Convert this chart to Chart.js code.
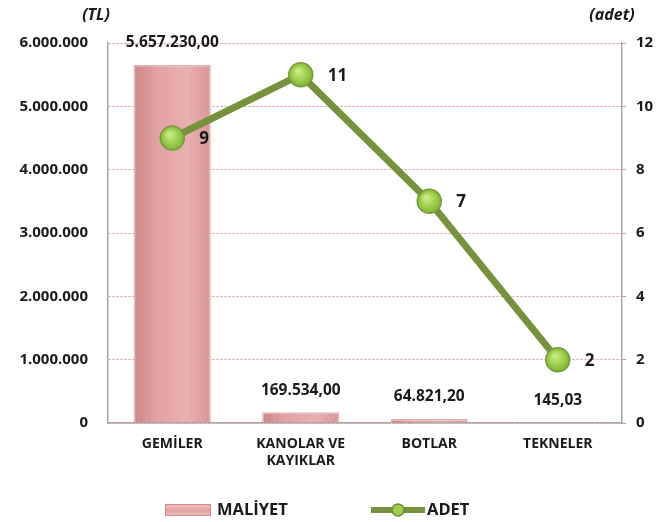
<!DOCTYPE html>
<html>
<head>
<meta charset="utf-8">
<script src="https://cdn.jsdelivr.net/npm/chart.js@4/dist/chart.umd.min.js"></script>
<style>
  html, body { margin: 0; padding: 0; background: #fff; }
  #wrap { width: 663px; height: 522px; position: relative; }
</style>
</head>
<body>
<div id="wrap"><canvas id="chart" width="663" height="522"></canvas></div>
<script>
// veriler
const categories = [['GEMİLER'], ['KANOLAR VE', 'KAYIKLAR'], ['BOTLAR'], ['TEKNELER']];
const maliyet = [5657230.00, 169534.00, 64821.20, 145.03];
const adet = [9, 11, 7, 2];
const leftTicks = [0, 1000000, 2000000, 3000000, 4000000, 5000000, 6000000];
const rightTicks = [0, 2, 4, 6, 8, 10, 12];

const FONT = "'Open Sans', sans-serif";
const TEXT = '#1a1a1a';

// Türkçe sayı biçimi: 1.234.567,89
function trNumber(v, dec) {
    const parts = v.toFixed(dec).split('.');
    const intPart = parts[0].replace(/\B(?=(\d{3})+(?!\d))/g, '.');
    return dec > 0 ? intPart + ',' + parts[1] : intPart;
}

// etiketler ve özel açıklama
const labelPlugin = {
    id: 'labelPlugin',
    afterDatasetsDraw(chart) {
        const ctx = chart.ctx;
        ctx.save();
        ctx.font = "bold 15.5px " + FONT;
        ctx.fillStyle = TEXT;

        // bar değerleri
        const barMeta = chart.getDatasetMeta(0);
        ctx.textAlign = 'center';
        ctx.textBaseline = 'middle';
        barMeta.data.forEach((bar, i) => {
            ctx.fillText(trNumber(maliyet[i], 2), bar.x, bar.y - 22);
        });

        // çizgi değerleri
        const lineMeta = chart.getDatasetMeta(1);
        ctx.font = "bold 17px " + FONT;
        ctx.textAlign = 'left';
        lineMeta.data.forEach((pt, i) => {
            ctx.fillText(String(adet[i]), pt.x + 27, pt.y + 1);
        });

        // eksen başlıkları
        ctx.font = "italic bold 16px " + FONT;
        ctx.textAlign = 'center';
        ctx.fillText('(TL)', 96, 15);
        ctx.fillText('(adet)', 612, 15);

        // açıklama
        const ly = 510;
        const g = ctx.createLinearGradient(0, ly - 6, 0, ly + 6);
        g.addColorStop(0, '#f2c4c4');
        g.addColorStop(0.5, '#e3a3a3');
        g.addColorStop(1, '#f0c0c0');
        ctx.fillStyle = g;
        ctx.fillRect(165, ly - 6, 46, 12);
        ctx.strokeStyle = '#cf8a8a';
        ctx.lineWidth = 1;
        ctx.strokeRect(165.5, ly - 5.5, 45, 11);
        ctx.fillStyle = TEXT;
        ctx.font = "bold 16.5px " + FONT;
        ctx.textAlign = 'left';
        ctx.fillText('MALİYET', 217, ly);

        ctx.strokeStyle = '#76923c';
        ctx.lineWidth = 6;
        ctx.beginPath();
        ctx.moveTo(371, ly);
        ctx.lineTo(425, ly);
        ctx.stroke();
        ctx.beginPath();
        ctx.arc(398, ly, 6, 0, Math.PI * 2);
        ctx.fillStyle = '#9bcf4a';
        ctx.fill();
        ctx.lineWidth = 1.5;
        ctx.strokeStyle = '#6a8a30';
        ctx.stroke();
        ctx.fillStyle = TEXT;
        ctx.fillText('ADET', 427, ly);
        ctx.restore();
    }
};

// bar dolgusu: yatay gradyan
function barFill(context) {
    const chart = context.chart;
    const xs = chart.scales.x;
    if (!xs || !xs.width || context.dataIndex === undefined) return '#e0a0a0';
    const cx = xs.getPixelForValue(context.dataIndex);
    const w = (xs.width / categories.length) * 0.6;
    if (!isFinite(cx) || !isFinite(w)) return '#e0a0a0';
    const g = chart.ctx.createLinearGradient(cx - w / 2, 0, cx + w / 2, 0);
    g.addColorStop(0, '#cf8588');
    g.addColorStop(0.3, '#e2a2a3');
    g.addColorStop(0.7, '#e8b0b0');
    g.addColorStop(1, '#d99597');
    return g;
}

// nokta dolgusu: radyal gradyan
function pointFill(context) {
    const chart = context.chart;
    const xs = chart.scales.x, ys = chart.scales.y1;
    if (!xs || !ys || context.dataIndex === undefined) return '#96cb48';
    const cx = xs.getPixelForValue(context.dataIndex);
    const cy = ys.getPixelForValue(adet[context.dataIndex]);
    if (!isFinite(cx) || !isFinite(cy)) return '#96cb48';
    const g = chart.ctx.createRadialGradient(cx - 3, cy - 4, 1, cx, cy, 12);
    g.addColorStop(0, '#c8ec86');
    g.addColorStop(0.6, '#9ccf4c');
    g.addColorStop(1, '#7fb23a');
    return g;
}

const ctx = document.getElementById('chart').getContext('2d');
new Chart(ctx, {
    type: 'bar',
    data: {
        labels: categories,
        datasets: [
            {
                label: 'MALİYET',
                data: maliyet,
                yAxisID: 'y',
                backgroundColor: barFill,
                borderColor: '#e0b3b4',
                borderWidth: 1.5,
                categoryPercentage: 0.6,
                barPercentage: 1,
                order: 2
            },
            {
                label: 'ADET',
                type: 'line',
                data: adet,
                yAxisID: 'y1',
                borderColor: '#76923c',
                borderWidth: 7,
                pointRadius: 12,
                pointHoverRadius: 12,
                pointBackgroundColor: pointFill,
                pointBorderColor: '#779b3a',
                pointBorderWidth: 1.5,
                tension: 0,
                order: 1
            }
        ]
    },
    options: {
        responsive: false,
        animation: false,
        layout: { padding: { top: 43, bottom: 0, left: 0, right: 0 } },
        plugins: {
            legend: { display: false },
            tooltip: { enabled: false }
        },
        scales: {
            x: {
                grid: { display: false, drawTicks: false },
                border: { color: '#a6a6a6', width: 1.5 },
                ticks: {
                    color: TEXT,
                    font: { family: FONT, weight: 'bold', size: 14 },
                    padding: 13,
                    maxRotation: 0
                },
                afterFit(scale) { scale.height = 99; }
            },
            y: {
                position: 'left',
                min: 0,
                max: 6000000,
                grid: {
                    color: '#e88e8e',
                    lineWidth: 1,
                    drawTicks: false
                },
                border: { color: '#a6a6a6', width: 1.5, dash: [2, 2] },
                afterBuildTicks(scale) { scale.ticks = leftTicks.map(v => ({ value: v })); },
                ticks: {
                    color: TEXT,
                    font: { family: FONT, weight: 'bold', size: 15 },
                    padding: 20,
                    callback: v => trNumber(v, 0)
                },
                afterFit(scale) { scale.width = 108; }
            },
            y1: {
                position: 'right',
                min: 0,
                max: 12,
                grid: { drawOnChartArea: false, tickLength: 4, color: '#a6a6a6' },
                border: { color: '#a6a6a6', width: 1.5 },
                afterBuildTicks(scale) { scale.ticks = rightTicks.map(v => ({ value: v })); },
                ticks: {
                    color: TEXT,
                    font: { family: FONT, weight: 'bold', size: 15 },
                    padding: 10
                },
                afterFit(scale) { scale.width = 41; }
            }
        }
    },
    plugins: [labelPlugin]
});
</script>
</body>
</html>
